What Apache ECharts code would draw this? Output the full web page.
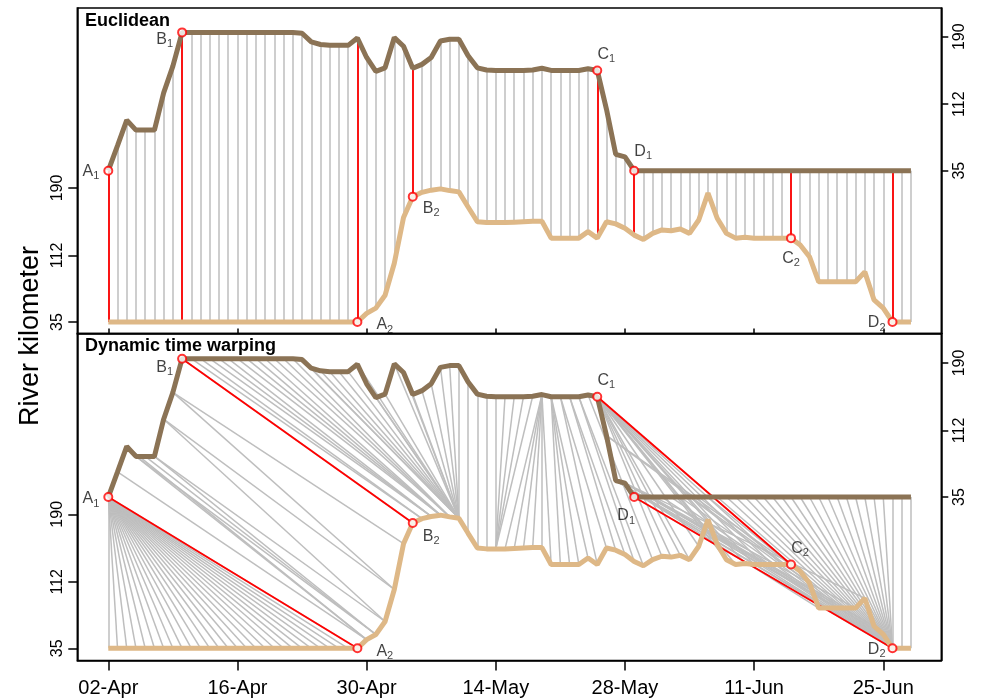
<!DOCTYPE html>
<html>
<head>
<meta charset="utf-8">
<script src="https://cdn.jsdelivr.net/npm/echarts@6/dist/echarts.min.js"></script>
<style>
html, body { margin: 0; padding: 0; background: #fff; }
#chart { width: 984px; height: 700px; }
</style>
</head>
<body>
<div id="chart"></div>
<script>
// x = day index from 02-Apr
var TICK_DAYS = [0, 14, 28, 42, 56, 70, 84];
var TICK_LABELS = ['02-Apr', '16-Apr', '30-Apr', '14-May', '28-May', '11-Jun', '25-Jun'];
var KM_TICKS = [35, 112, 190];

// upper track (right axis, river km)
var BROWN = [35, 64, 93.5, 82, 82, 82, 125, 156, 195, 195,
  195, 195, 195, 195, 195, 195, 195, 195, 195, 195,
  195, 194, 184, 181, 180, 180, 180, 188.5, 166, 150,
  154, 189, 179, 153.5, 158, 166, 185, 187, 187, 168,
  154, 151.5, 151, 151, 151, 151, 151.5, 153.5, 151, 151,
  151, 151, 153, 151, 106, 54, 51, 35, 35, 35,
  35, 35, 35, 35, 35, 35, 35, 35, 35, 35,
  35, 35, 35, 35, 35, 35, 35, 35, 35, 35,
  35, 35, 35, 35, 35, 35, 35, 35];

// lower track (left axis, river km)
var TAN = [35, 35, 35, 35, 35, 35, 35, 35, 35, 35,
  35, 35, 35, 35, 35, 35, 35, 35, 35, 35,
  35, 35, 35, 35, 35, 35, 35, 35, 45, 51,
  66, 103, 156, 180, 185, 187.5, 189, 187, 185.5, 168,
  151, 150, 150, 150, 150.5, 151, 151.5, 151.5, 132, 132,
  132, 132, 139.5, 132, 151, 148.5, 143.5, 135.5, 130.5, 137.5,
  141.5, 140.5, 142.5, 137.5, 153, 184, 155, 137.5, 132, 133,
  132, 132, 132, 132, 132, 124, 110.5, 81.5, 81.5, 81.5,
  81.5, 81.5, 93, 60.5, 51, 35, 35, 35];

var MARK_NAMES = ['A', 'B', 'C', 'D'];
var MARK_BROWN = [0, 8, 53, 57];
var MARK_TAN = [27, 33, 74, 85];

// warping path [upper index, lower index]
var DTW_PATH = [
  [0,0],[0,1],[0,2],[0,3],[0,4],[0,5],[0,6],[0,7],[0,8],[0,9],[0,10],[0,11],[0,12],[0,13],
  [0,14],[0,15],[0,16],[0,17],[0,18],[0,19],[0,20],[0,21],[0,22],[0,23],[0,24],[0,25],[0,26],[0,27],
  [1,28],[2,28],[3,28],[3,29],[4,29],[5,29],[5,30],[6,30],[6,31],[7,31],[7,32],[8,33],
  [9,34],[10,34],[11,35],[12,35],[13,35],[14,36],[15,36],[16,36],[17,36],[18,37],[19,37],[20,37],
  [21,38],[22,38],[23,38],[24,38],[25,38],[26,38],[27,38],[28,38],[29,38],[30,38],[31,38],[32,38],
  [33,38],[34,38],[35,38],[36,38],[37,38],[38,38],
  [39,39],[40,40],[41,41],[42,42],[43,42],[44,42],[45,42],[46,42],
  [47,43],[47,44],[47,45],[47,46],[47,47],[47,48],
  [48,49],[48,50],[48,51],[48,52],[49,53],[49,54],[50,55],[50,56],[51,57],[51,58],[52,59],
  [53,60],[53,61],[53,62],[53,63],[53,64],[53,65],[53,66],[53,67],[53,68],[53,69],[53,70],
  [53,71],[53,72],[53,73],[53,74],
  [54,75],[54,76],[55,77],[55,78],[55,79],[56,80],[56,81],[56,82],[56,83],[56,84],[57,85],
  [58,85],[59,85],[60,85],[61,85],[62,85],[63,85],[64,85],[65,85],[66,85],[67,85],[68,85],
  [69,85],[70,85],[71,85],[72,85],[73,85],[74,85],[75,85],[76,85],[77,85],[78,85],[79,85],
  [80,85],[81,85],[82,85],[83,85],[84,85],[85,85],
  [86,86],[87,87]
];

var SHIFT = 175;   // upper track drawn above the lower one
var FONT = 'Liberation Sans, Arial, sans-serif';
var XMIN = -3.36, XMAX = 90.29;

var panels = [
  { top: 8, height: 325.5, ymin: 21.70, ymax: 398.21, title: 'Euclidean',
    bPos: [['left', [0, 1]], ['left', [0, 7]], ['top', [9, 3]], ['top', [9, 0]]],
    tPos: [['right', [10, 3]], ['right', [1, 12]], ['bottom', [0, 1]], ['left', [2, 1]]] },
  { top: 333.5, height: 327, ymin: 20.89, ymax: 399.14, title: 'Dynamic time warping',
    bPos: [['left', [0, 2]], ['left', [0, 9]], ['top', [9, 3]], ['bottom', [-8, 0]]],
    tPos: [['right', [10, 3]], ['right', [1, 14]], ['top', [9, 3]], ['left', [2, 1]]] }
];

var grids = [], xAxes = [], yAxes = [], series = [], graphics = [];

panels.forEach(function (pn, p) {
  grids.push({ left: 77.3, right: 42.7, top: pn.top, height: pn.height, show: true,
    borderColor: '#000', borderWidth: 1.5, backgroundColor: 'transparent' });

  xAxes.push({
    type: 'value', gridIndex: p, min: XMIN, max: XMAX, position: 'bottom',
    splitLine: { show: false },
    axisLine: { show: true, onZero: false, lineStyle: { color: '#000', width: 1.5 } },
    axisTick: { show: true, inside: p === 0, length: p === 0 ? 5 : 10, customValues: TICK_DAYS,
      lineStyle: { color: '#000', width: 1.5 } },
    axisLabel: { show: p === 1, customValues: TICK_DAYS, color: '#000', fontSize: 20,
      fontFamily: FONT, margin: 18,
      formatter: function (v) { return TICK_LABELS[TICK_DAYS.indexOf(v)]; } }
  });

  yAxes.push({
    type: 'value', gridIndex: p, position: 'left', min: pn.ymin, max: pn.ymax,
    splitLine: { show: false },
    axisLine: { show: true, onZero: false, lineStyle: { color: '#000', width: 1.5 } },
    axisTick: { show: true, length: 9, customValues: KM_TICKS, lineStyle: { color: '#000', width: 1.5 } },
    axisLabel: { customValues: KM_TICKS, rotate: 90, color: '#000', fontSize: 16, fontFamily: FONT, margin: 12 }
  });
  yAxes.push({
    type: 'value', gridIndex: p, position: 'right', min: pn.ymin - SHIFT, max: pn.ymax - SHIFT,
    splitLine: { show: false },
    axisLine: { show: true, onZero: false, lineStyle: { color: '#000', width: 1.5 } },
    axisTick: { show: true, length: 7, customValues: KM_TICKS, lineStyle: { color: '#000', width: 1.5 } },
    axisLabel: { customValues: KM_TICKS, rotate: 90, color: '#000', fontSize: 16, fontFamily: FONT, margin: 10 }
  });

  var pairs = p === 0 ? BROWN.map(function (v, i) { return [i, i]; }) : DTW_PATH;
  var redPairs = [];
  MARK_BROWN.forEach(function (b, k) {
    if (p === 0) { redPairs.push([b, b]); redPairs.push([MARK_TAN[k], MARK_TAN[k]]); }
    else redPairs.push([b, MARK_TAN[k]]);
  });
  function seg(q) { return { coords: [[q[0], BROWN[q[0]] + SHIFT], [q[1], TAN[q[1]]]] }; }

  series.push({
    type: 'lines', coordinateSystem: 'cartesian2d', xAxisIndex: p, yAxisIndex: 2 * p,
    silent: true, z: 2, lineStyle: { color: '#bebebe', width: 1.5, opacity: 1 },
    data: pairs.map(seg)
  });
  series.push({
    type: 'lines', coordinateSystem: 'cartesian2d', xAxisIndex: p, yAxisIndex: 2 * p,
    silent: true, z: 3, lineStyle: { color: '#ff0000', width: 1.8, opacity: 1 },
    data: redPairs.map(seg)
  });
  series.push({
    type: 'line', xAxisIndex: p, yAxisIndex: 2 * p, showSymbol: false, z: 4,
    lineStyle: { color: '#deb887', width: 5 },
    data: TAN.map(function (v, i) { return [i, v]; })
  });
  series.push({
    type: 'line', xAxisIndex: p, yAxisIndex: 2 * p, showSymbol: false, z: 4,
    lineStyle: { color: '#8b7355', width: 5 },
    data: BROWN.map(function (v, i) { return [i, v + SHIFT]; })
  });

  var marks = [];
  MARK_NAMES.forEach(function (nm, k) {
    marks.push({ value: [MARK_BROWN[k], BROWN[MARK_BROWN[k]] + SHIFT], lab: nm, sub: '1',
      label: { position: pn.bPos[k][0], offset: pn.bPos[k][1] } });
    marks.push({ value: [MARK_TAN[k], TAN[MARK_TAN[k]]], lab: nm, sub: '2',
      label: { position: pn.tPos[k][0], offset: pn.tPos[k][1] } });
  });
  series.push({
    type: 'scatter', xAxisIndex: p, yAxisIndex: 2 * p, z: 5, symbol: 'emptyCircle', symbolSize: 8,
    itemStyle: { color: '#ff0000', borderWidth: 2 },
    label: { show: true, distance: 4,
      formatter: function (prm) { return '{m|' + prm.data.lab + '}{s|' + prm.data.sub + '}'; },
      rich: {
        m: { fontSize: 16, fontFamily: FONT, color: '#111' },
        s: { fontSize: 11, fontFamily: FONT, color: '#111', padding: [9, 0, 0, 0] }
      } },
    data: marks
  });

  graphics.push({ type: 'text', left: 85, top: pn.top + 4,
    style: { text: pn.title, font: 'bold 18px ' + FONT, fill: '#000' } });
});

graphics.push({ type: 'text', x: 31, y: 336, rotation: Math.PI / 2,
  style: { text: 'River kilometer', font: '27px ' + FONT, fill: '#000', align: 'center', verticalAlign: 'middle' } });

var myChart = echarts.init(document.getElementById('chart'));
myChart.setOption({
  backgroundColor: '#fff',
  animation: false,
  grid: grids,
  xAxis: xAxes,
  yAxis: yAxes,
  series: series,
  graphic: graphics
});
</script>
</body>
</html>
